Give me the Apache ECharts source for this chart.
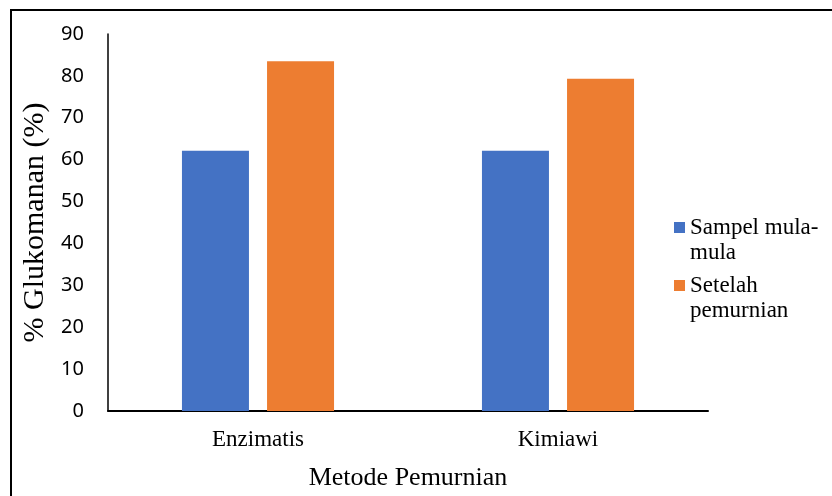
<!DOCTYPE html>
<html>
<head>
<meta charset="utf-8">
<script src="https://cdn.jsdelivr.net/npm/echarts@6/dist/echarts.min.js"></script>
<style>
  html, body { margin: 0; padding: 0; background: #fff; }
  #chart { width: 832px; height: 496px; }
</style>
</head>
<body>
<div id="chart"></div>
<script>
// Glucomannan content by purification method
const categories = ['Enzimatis', 'Kimiawi'];
const sampelAwal = [62.1, 62.1];
const setelahPemurnian = [83.5, 79.3];
const seriesNames = ['Sampel mula-mula', 'Setelah pemurnian'];
// Wrapped legend text; the leading blank line keeps the icon level with the first line
const legendLabels = {
  'Sampel mula-mula': '\nSampel mula-\nmula',
  'Setelah pemurnian': '\nSetelah\npemurnian'
};

const serif = '"Liberation Serif", "Times New Roman", serif';
const sans = '"Noto Sans", "DejaVu Sans", sans-serif';

const chart = echarts.init(document.getElementById('chart'), null, { renderer: 'canvas' });
chart.setOption({
  backgroundColor: '#ffffff',
  animation: false,
  graphic: [{
    type: 'rect',
    shape: { x: 11, y: 10, width: 840, height: 500 },
    style: { fill: 'none', stroke: '#000', lineWidth: 2 }
  }],
  grid: { left: 108, right: 124, top: 34, bottom: 85 },
  legend: {
    orient: 'vertical',
    left: 669,
    top: 185,
    itemWidth: 11,
    itemHeight: 11,
    itemGap: -17,
    icon: 'rect',
    data: seriesNames,
    formatter: name => legendLabels[name],
    textStyle: {
      fontFamily: serif, fontSize: 23, color: '#000', lineHeight: 25
    }
  },
  xAxis: {
    type: 'category',
    data: categories,
    name: 'Metode Pemurnian',
    nameLocation: 'middle',
    nameGap: 54,
    nameTextStyle: { fontFamily: serif, fontSize: 26, color: '#000' },
    axisLine: { lineStyle: { color: '#000', width: 2 } },
    axisTick: { show: false },
    axisLabel: { fontFamily: serif, fontSize: 23, color: '#000', margin: 17 }
  },
  yAxis: {
    type: 'value',
    min: 0, max: 90, interval: 10,
    name: '% Glukomanan (%)',
    nameLocation: 'middle',
    nameGap: 55,
    nameTextStyle: { fontFamily: serif, fontSize: 30, color: '#000' },
    axisLine: { show: true, lineStyle: { color: '#000', width: 1.5 } },
    axisTick: { show: false },
    splitLine: { show: false },
    axisLabel: { fontFamily: sans, fontSize: 20, color: '#000', margin: 24 }
  },
  series: [
    {
      name: seriesNames[0], type: 'bar', data: sampelAwal,
      barWidth: 67, barGap: '27%',
      itemStyle: { color: '#4472C4' }
    },
    {
      name: seriesNames[1], type: 'bar', data: setelahPemurnian,
      barWidth: 67, barGap: '27%',
      itemStyle: { color: '#ED7D31' }
    }
  ]
});
</script>
</body>
</html>
